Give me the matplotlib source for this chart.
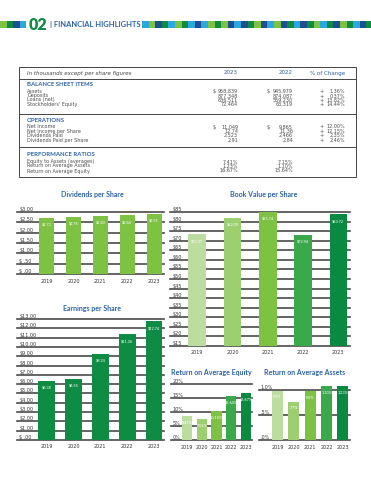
import matplotlib
matplotlib.use("Agg")
import matplotlib.pyplot as plt
from matplotlib.patches import Rectangle
import matplotlib.transforms as mtransforms

plt.rcParams['font.family'] = ['Lato', 'DejaVu Sans']

# ---------------- data ----------------
years = ["2019", "2020", "2021", "2022", "2023"]
dividends = [2.72, 2.76, 2.80, 2.84, 2.91]
book_value = [73.37, 82.09, 85.74, 72.94, 83.72]
eps = [6.38, 6.55, 9.24, 11.36, 12.74]
roe = [8.47, 7.52, 10.18, 15.64, 16.67]
roa = [0.99, 0.77, 0.98, 1.10, 1.23]

div_ticks = [0, 0.5, 1.0, 1.5, 2.0, 2.5, 3.0]
div_ticklabels = ["$ .00", "$ .50", "$1.00", "$1.50", "$2.00", "$2.50", "$3.00"]
bv_ticks = list(range(15, 90, 5))
bv_ticklabels = ["$%d" % t for t in bv_ticks]
eps_ticks = list(range(0, 14))
eps_ticklabels = ["$ .00"] + ["$%d.00" % t for t in range(1, 14)]
roe_ticks = [0, 5, 10, 15, 20]
roe_ticklabels = ["0%", "5%", "10%", "15%", "20%"]
roa_ticks = [0, 0.5, 1.0]
roa_ticklabels = [".0%", ".5%", "1.0%"]

table_header = ["In thousands except per share figures", "2023", "2022", "% of Change"]
bs_items = ["Assets", "Deposits", "Loans (net)", "Stockholders' Equity"]
bs_2023 = ["958,839", "877,348", "636,511", "72,464"]
bs_2022 = ["945,979", "874,087", "559,230", "63,319"]
bs_chg = ["1.36%", "0.37%", "13.82%", "14.44%"]
op_items = ["Net Income", "Net Income per Share", "Dividends Paid", "Dividends Paid per Share"]
op_2023 = ["11,049", "12.74", "2,523", "2.91"]
op_2022 = ["9,865", "11.36", "2,466", "2.84"]
op_chg = ["12.00%", "12.15%", "2.35%", "2.46%"]
pr_items = ["Equity to Assets (averages)", "Return on Average Assets", "Return on Average Equity"]
pr_2023 = ["7.41%", "1.23%", "16.67%"]
pr_2022 = ["7.15%", "1.10%", "15.64%"]

# ---------------- style ----------------
W, H = 371, 480
BLUE = "#2b62a8"
GREEN = "#0f8c43"
LIME = "#7dc242"
NAVY = "#1f4f8f"
SKY = "#2aa9e0"
GRID = "#4a4a4a"
TXT = "#4d4d4d"
WIDE = ["DejaVu Sans"]
grad = ["#bcdda0", "#9ccf6f", "#7dc242", "#3aa94b", "#0a8a40"]

fig = plt.figure(figsize=(W / 100, H / 100), dpi=100)
fig.patch.set_facecolor("white")


def fx(x):
    return x / W


def fy(y):
    return 1 - y / H


def ftext(x, y, s, **kw):
    fig.text(fx(x), fy(y), s, transform=fig.transFigure, **kw)


# ---------------- header strip ----------------
sq = 6.6
left_cols = [LIME, GREEN, NAVY, SKY]
right_cols = [SKY, LIME, NAVY, GREEN, SKY, LIME, GREEN, SKY, NAVY, SKY, LIME, GREEN,
              LIME, NAVY, SKY, NAVY, GREEN, LIME, NAVY, SKY, LIME, NAVY, GREEN, SKY,
              NAVY, GREEN, LIME, SKY, GREEN, NAVY, LIME, GREEN, SKY, NAVY, GREEN]
for i, c in enumerate(left_cols):
    fig.patches.append(Rectangle((fx(i * sq), fy(28)), sq / W, 7 / H,
                                 transform=fig.transFigure, color=c, lw=0))
for i, c in enumerate(right_cols):
    fig.patches.append(Rectangle((fx(142 + i * sq), fy(28)), sq / W, 7 / H,
                                 transform=fig.transFigure, color=c, lw=0))
ftext(28.5, 24.5, "02", color=GREEN, fontsize=11.5, fontweight="heavy", va="center", ha="left")
ftext(50, 25, "| FINANCIAL HIGHLIGHTS", color=BLUE, fontsize=5.4, fontweight="bold",
      va="center", ha="left")

# ---------------- table ----------------
fig.patches.append(Rectangle((fx(19), fy(177)), (356 - 19) / W, (177 - 67) / H,
                             transform=fig.transFigure, fill=False, ec="#444444", lw=0.7))
for yy in [79, 114, 147]:
    fig.add_artist(plt.Line2D([fx(19), fx(356)], [fy(yy), fy(yy)],
                              transform=fig.transFigure, color="#444444", lw=0.7))

fs = 3.5
ftext(27, 73, table_header[0], fontsize=4.0, style="italic", color="#444444", va="center",
      family=WIDE)
ftext(238, 73, table_header[1], fontsize=4.0, color=BLUE, va="center", ha="right", family=WIDE)
ftext(293, 73, table_header[2], fontsize=4.0, color=BLUE, va="center", ha="right", family=WIDE)
ftext(345, 73, table_header[3], fontsize=4.0, color=BLUE, va="center", ha="right", family=WIDE)


def section(title, ytitle, items, rows_y, v23, v22, chg, dollar_first):
    ftext(27, ytitle, title, fontsize=4.3, fontweight="bold", color=BLUE, va="center")
    for i, (name, y) in enumerate(zip(items, rows_y)):
        ftext(27, y, name, fontsize=fs, color=TXT, va="center", family=WIDE)
        ftext(238, y, v23[i], fontsize=fs, color=TXT, va="center", ha="right", family=WIDE)
        ftext(293, y, v22[i], fontsize=fs, color=TXT, va="center", ha="right", family=WIDE)
        if dollar_first and i == 0:
            ftext(213, y, "$", fontsize=fs, color=TXT, va="center", family=WIDE)
            ftext(267, y, "$", fontsize=fs, color=TXT, va="center", family=WIDE)
        if chg is not None:
            ftext(319, y, "+", fontsize=fs, color=TXT, va="center", family=WIDE)
            ftext(345, y, chg[i], fontsize=fs, color=TXT, va="center", ha="right", family=WIDE)


section("BALANCE SHEET ITEMS", 85, bs_items, [91.5, 96, 100, 104.5], bs_2023, bs_2022, bs_chg, True)
section("OPERATIONS", 120.5, op_items, [127, 131.5, 135.5, 140], op_2023, op_2022, op_chg, True)
section("PERFORMANCE RATIOS", 154, pr_items, [162, 166, 171], pr_2023, pr_2022, None, False)


# ---------------- charts ----------------
def bar_chart(box, xlim, ylim, values, colors, width, ticks, ticklabels, fmt,
              title, title_xy, year_pad):
    x0, y0, x1, y1 = box
    ax = fig.add_axes([fx(x0), fy(y1), (x1 - x0) / W, (y1 - y0) / H])
    ax.set_facecolor("none")
    ax.set_xlim(*xlim)
    ax.set_ylim(*ylim)
    for t in ticks:
        ax.axhline(t, color=GRID, lw=1.2, zorder=1, clip_on=False)
    xs = list(range(len(values)))
    ax.bar(xs, values, width=width, color=colors, zorder=2, lw=0)
    trans = mtransforms.blended_transform_factory(ax.transAxes, ax.transData)
    for t, lab in zip(ticks, ticklabels):
        ax.text(0.015, t, lab, transform=trans, fontsize=3.5, color="#333333",
                ha="left", va="bottom", clip_on=False, family=WIDE)
    for x, v in zip(xs, values):
        ax.annotate(fmt(v), (x, min(v, ylim[1])), xytext=(0, -3.5),
                    textcoords="offset points", ha="center", va="top",
                    fontsize=2.8, color="white", zorder=3)
    ax.set_xticks(xs)
    ax.set_xticklabels(years, fontsize=3.5, color="#333333", family=WIDE)
    ax.tick_params(axis="x", length=0, pad=year_pad)
    ax.set_yticks([])
    for s in ax.spines.values():
        s.set_visible(False)
    ftext(title_xy[0], title_xy[1], title, fontsize=5.0, fontweight="bold",
          color=BLUE, ha="center", va="center")
    return ax


bar_chart((17, 212, 164, 274), (-1.10, 4.37), (0, 3.0), dividends, [LIME] * 5, 0.56,
          div_ticks, div_ticklabels, lambda v: "$%.2f" % v,
          "Dividends per Share", (92, 195), 3.5)

bar_chart((170, 212, 350, 346), (-0.77, 4.33), (15, 85), book_value, grad, 0.5,
          bv_ticks, bv_ticklabels, lambda v: "$%.2f" % v,
          "Book Value per Share", (264, 195), 3.0)

bar_chart((17, 319, 164, 440), (-1.10, 4.37), (0, 13), eps, [GREEN] * 5, 0.62,
          eps_ticks, eps_ticklabels, lambda v: "$%.2f" % v,
          "Earnings per Share", (92, 308), 3.0)

bar_chart((171, 384, 252, 440), (-1.08, 4.4), (0, 20), roe, grad, 0.7,
          roe_ticks, roe_ticklabels, lambda v: "%.2f%%" % v,
          "Return on Average Equity", (211, 373), 3.5)

bar_chart((259, 386, 350, 440), (-1.13, 4.43), (0, 1.08), roa, grad, 0.67,
          roa_ticks, roa_ticklabels, lambda v: ("%.2f%%" % v).lstrip("0"),
          "Return on Average Assets", (305, 373), 3.5)

fig.savefig("out.png", dpi=100, facecolor="white")
